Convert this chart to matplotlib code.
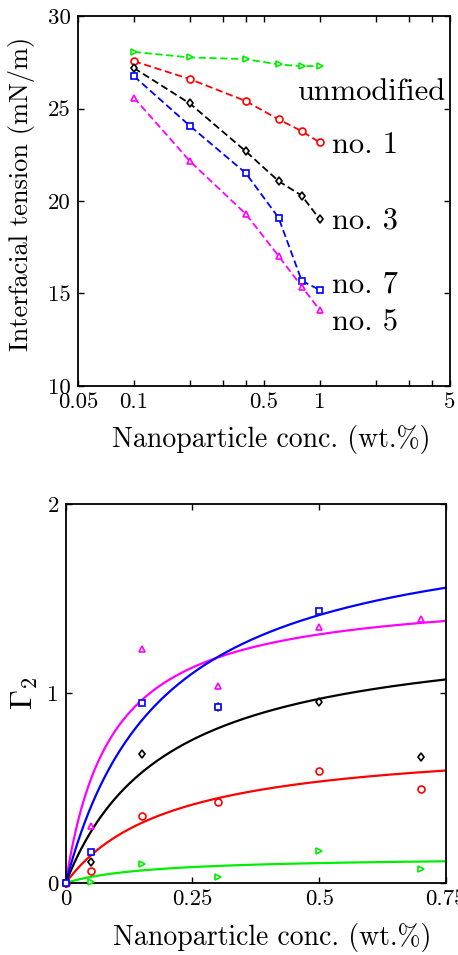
import matplotlib
matplotlib.use("Agg")
import matplotlib.pyplot as plt
import numpy as np

plt.rcParams['font.family'] = ['cmr10', 'DejaVu Serif']
plt.rcParams['mathtext.fontset'] = 'cm'
plt.rcParams['axes.formatter.use_mathtext'] = True

# ---------- top panel data ----------
conc_top = [0.1, 0.2, 0.4, 0.6, 0.8, 1.0]
ift_unmod = [28.07, 27.77, 27.68, 27.39, 27.30, 27.30]
ift_no1 = [27.57, 26.60, 25.41, 24.42, 23.78, 23.17]
ift_no3 = [27.20, 25.28, 22.69, 21.08, 20.29, 19.01]
ift_no7 = [26.76, 24.07, 21.51, 19.10, 15.68, 15.19]
ift_no5 = [25.60, 22.16, 19.30, 17.03, 15.37, 14.10]
top_labels = ["unmodified", "no. 1", "no. 3", "no. 7", "no. 5"]
top_label_x = [0.76, 1.17, 1.17, 1.17, 1.17]
top_label_y = [25.46, 22.6, 18.54, 15.03, 13.03]
xtick_top = [0.05, 0.1, 0.2, 0.3, 0.4, 0.5, 1, 2, 3, 4, 5]
xtick_top_labels = ["0.05", "0.1", "", "", "", "0.5", "1", "", "", "", "5"]
ytick_top = [10, 15, 20, 25, 30]

# ---------- bottom panel data ----------
conc_bot = [0.0, 0.05, 0.15, 0.3, 0.5, 0.7]
g2_no5 = [0.0, 0.30, 1.235, 1.04, 1.353, 1.39]
conc_bot_no7 = [0.0, 0.05, 0.15, 0.3, 0.5]
g2_no7 = [0.0, 0.165, 0.948, 0.93, 1.437]
g2_no3 = [0.0, 0.109, 0.679, 0.93, 0.955, 0.667]
g2_no1 = [0.0, 0.065, 0.352, 0.426, 0.593, 0.496]
g2_unmod = [0.0, 0.007, 0.10, 0.03, 0.17, 0.075]
# Langmuir fit parameters (Gamma_max, K)
fit_gmax = {"no5": 1.55, "no7": 1.957, "no3": 1.36, "no1": 0.758, "unmod": 0.14}
fit_k = {"no5": 11.0, "no7": 5.2, "no3": 5.0, "no1": 4.8, "unmod": 6.0}
xtick_bot = [0, 0.25, 0.5, 0.75]
xtick_bot_labels = ["0", "0.25", "0.5", "0.75"]
ytick_bot = [0, 1, 2]

colors = {"unmod": "#00ee00", "no1": "#ff0000", "no3": "#000000",
          "no7": "#0000ff", "no5": "#ff00ff"}

fig = plt.figure(figsize=(4.58, 9.55), dpi=100)

# ---------------- top ----------------
ax1 = fig.add_axes([0.170, 0.596, 0.812, 0.387])
series_top = [("unmod", ift_unmod, ">"), ("no1", ift_no1, "o"),
              ("no3", ift_no3, "d"), ("no7", ift_no7, "s"), ("no5", ift_no5, "^")]
for key, vals, m in series_top:
    ax1.plot(conc_top, vals, linestyle=(0, (4, 2)), color=colors[key], lw=1.3,
             marker=m, ms=5 if m != "d" else 4.5, mfc="white", mec=colors[key], mew=1.2)
ax1.set_xscale("log")
ax1.set_xlim(0.05, 5)
ax1.set_ylim(10, 30)
ax1.set_xticks(xtick_top)
ax1.set_xticklabels(xtick_top_labels)
ax1.xaxis.set_minor_locator(matplotlib.ticker.NullLocator())
ax1.set_yticks(ytick_top)
ax1.set_yticklabels([str(v) for v in ytick_top])
for lbl, xx, yy in zip(top_labels, top_label_x, top_label_y):
    ax1.text(xx, yy, lbl, fontsize=22, ha="left", va="baseline")
ax1.set_xlabel("Nanoparticle conc. (wt.%)", fontsize=20)
ax1.xaxis.set_label_coords(0.52, -0.146)
ax1.xaxis.label.set_verticalalignment("center")
ax1.set_ylabel("Interfacial tension (mN/m)", fontsize=19)
ax1.yaxis.set_label_coords(-0.151, 0.52)
ax1.yaxis.label.set_verticalalignment("center")

# ---------------- bottom ----------------
ax2 = fig.add_axes([0.1435, 0.0754, 0.830, 0.397])
xs = np.linspace(0, 0.75, 300)
series_bot = [("unmod", conc_bot, g2_unmod, ">"), ("no1", conc_bot, g2_no1, "o"),
              ("no3", conc_bot, g2_no3, "d"), ("no5", conc_bot, g2_no5, "^"),
              ("no7", conc_bot_no7, g2_no7, "s")]
for key, xv, vals, m in series_bot:
    G, K = fit_gmax[key], fit_k[key]
    ax2.plot(xs, G * K * xs / (1 + K * xs), color=colors[key], lw=1.6, zorder=2)
for key, xv, vals, m in series_bot:
    ax2.plot(xv, vals, linestyle="none", marker=m, ms=5 if m != "d" else 4.5,
             mfc="white", mec=colors[key], mew=1.2, zorder=3, clip_on=False)
ax2.set_xlim(0, 0.75)
ax2.set_ylim(0, 2)
ax2.set_xticks(xtick_bot)
ax2.set_xticklabels(xtick_bot_labels)
ax2.set_yticks(ytick_bot)
ax2.set_yticklabels([str(v) for v in ytick_bot])
ax2.set_xlabel("Nanoparticle conc. (wt.%)", fontsize=20)
ax2.xaxis.set_label_coords(0.542, -0.143)
ax2.xaxis.label.set_verticalalignment("center")
ax2.set_ylabel(r"$\Gamma_2$", fontsize=23)
ax2.yaxis.set_label_coords(-0.107, 0.5)
ax2.yaxis.label.set_verticalalignment("center")

for ax in (ax1, ax2):
    ax.tick_params(direction="in", top=True, right=True, labelsize=16.5,
                   length=4, width=1, pad=5)
    for s in ax.spines.values():
        s.set_linewidth(1.3)

fig.savefig("out.png", dpi=100)
